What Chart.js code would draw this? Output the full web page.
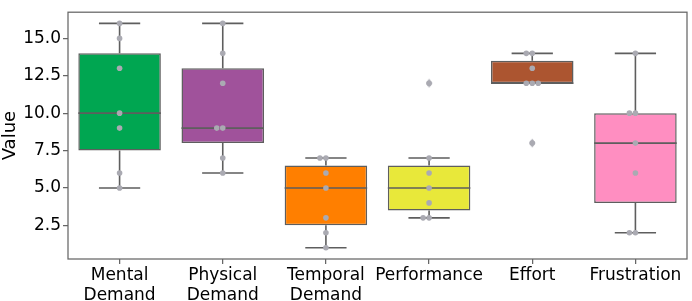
<!DOCTYPE html>
<html>
<head>
<meta charset="utf-8">
<script src="https://cdn.jsdelivr.net/npm/chart.js@4.4.1/dist/chart.umd.min.js"></script>
<style>
  html, body { margin: 0; padding: 0; background: #fff; }
  #wrap { width: 692px; height: 301px; }
</style>
</head>
<body>
<div id="wrap"><canvas id="boxChart"></canvas></div>
<script>
// categories and box statistics
var categories = [["Mental", "Demand"], ["Physical", "Demand"], ["Temporal", "Demand"], "Performance", "Effort", "Frustration"];
var boxColors = ["#00a651", "#a0529b", "#ff7f00", "#e8e83a", "#ac5530", "#ff8ec1"];
var q1 = [7.5, 8, 2.5, 3.5, 12, 4];
var median = [10, 9, 5, 5, 12, 8];
var q3 = [14, 13, 6.5, 6.5, 13.5, 10];
var whiskerLow = [5, 6, 1, 3, 12, 2];
var whiskerHigh = [16, 16, 7, 7, 14, 14];
var outliers = [[], [], [], [12], [8], []];
// individual observations (the grey swarm dots)
var observations = [
    [16, 15, 13, 10, 9, 6, 5],
    [16, 14, 12, 9, 9, 7, 6],
    [7, 7, 6, 5, 3, 2, 1],
    [12, 7, 6, 5, 4, 3, 3],
    [14, 14, 13, 12, 12, 12, 8],
    [14, 10, 10, 8, 6, 2, 2]
];
var yTicks = [2.5, 5.0, 7.5, 10.0, 12.5, 15.0];

var lineColor = "#5e5e5e";
var dotColor = "#aaaab2";
var tickFont = { family: "DejaVu Sans", size: 17 };

// box whiskers, caps and medians as broken lines
var whiskerPts = [];
var medianPts = [];
for (var i = 0; i < categories.length; i++) {
    whiskerPts.push({ x: i, y: whiskerLow[i] }, { x: i, y: q1[i] }, { x: i, y: null });
    whiskerPts.push({ x: i, y: q3[i] }, { x: i, y: whiskerHigh[i] }, { x: i, y: null });
    whiskerPts.push({ x: i - 0.2, y: whiskerLow[i] }, { x: i + 0.2, y: whiskerLow[i] }, { x: i, y: null });
    whiskerPts.push({ x: i - 0.2, y: whiskerHigh[i] }, { x: i + 0.2, y: whiskerHigh[i] }, { x: i, y: null });
    medianPts.push({ x: i - 0.4, y: median[i] }, { x: i + 0.4, y: median[i] }, { x: i, y: null });
}

// swarm: repeated values sit side by side (center, left, right ...)
var swarmStep = 0.058;
var swarmPts = [];
observations.forEach(function (vals, c) {
    var seen = {};
    vals.forEach(function (v) {
        var k = seen[v] || 0;
        seen[v] = k + 1;
        var off = k === 0 ? 0 : (k % 2 === 1 ? -Math.ceil(k / 2) : Math.ceil(k / 2));
        swarmPts.push({ x: c + off * swarmStep, y: v });
    });
});

var outlierPts = [];
outliers.forEach(function (vals, c) {
    vals.forEach(function (v) { outlierPts.push({ x: c, y: v }); });
});

// thin diamond marker for fliers
var diamond = document.createElement("canvas");
diamond.width = 7;
diamond.height = 10;
var dctx = diamond.getContext("2d");
dctx.fillStyle = dotColor;
dctx.beginPath();
dctx.moveTo(3.5, 0.5);
dctx.lineTo(6.5, 5);
dctx.lineTo(3.5, 9.5);
dctx.lineTo(0.5, 5);
dctx.closePath();
dctx.fill();

var framePlugin = {
    id: "frame",
    beforeDatasetsDraw: function (chart) {
        var a = chart.chartArea, ctx = chart.ctx;
        ctx.save();
        ctx.strokeStyle = "#666";
        ctx.lineWidth = 1.25;
        ctx.strokeRect(a.left, a.top, a.right - a.left, a.bottom - a.top);
        ctx.restore();
    }
};

new Chart(document.getElementById("boxChart").getContext("2d"), {
    type: "scatter",
    data: {
        datasets: [
            {
                type: "bar",
                label: "box",
                data: q1.map(function (v, i) { return { x: i, y: [v, q3[i]] }; }),
                backgroundColor: boxColors,
                borderColor: lineColor,
                borderWidth: 1.5,
                borderSkipped: false,
                barPercentage: 0.8,
                categoryPercentage: 1,
                order: 5
            },
            {
                type: "line",
                label: "whiskers",
                data: whiskerPts,
                borderColor: lineColor,
                borderWidth: 1.6,
                pointRadius: 0,
                spanGaps: false,
                fill: false,
                order: 4
            },
            {
                type: "line",
                label: "median",
                data: medianPts,
                borderColor: lineColor,
                borderWidth: 1.6,
                pointRadius: 0,
                spanGaps: false,
                fill: false,
                order: 3
            },
            {
                type: "scatter",
                label: "points",
                data: swarmPts,
                backgroundColor: dotColor,
                borderWidth: 0,
                pointRadius: 2.8,
                order: 2
            },
            {
                type: "scatter",
                label: "outliers",
                data: outlierPts,
                pointStyle: diamond,
                order: 1
            }
        ]
    },
    options: {
        responsive: true,
        maintainAspectRatio: false,
        animation: false,
        layout: { padding: { left: 0, right: 2, top: 2, bottom: 0 } },
        plugins: { legend: { display: false }, tooltip: { enabled: false } },
        scales: {
            x: {
                type: "linear",
                min: -0.5,
                max: 5.5,
                offset: false,
                afterBuildTicks: function (s) { s.ticks = categories.map(function (c, i) { return { value: i }; }); },
                grid: { display: true, offset: false, drawOnChartArea: false, tickLength: 5, color: "#666", lineWidth: 1.25 },
                border: { display: false },
                ticks: {
                    font: tickFont, color: "#000", padding: 1, maxRotation: 0, autoSkip: false,
                    callback: function (v) { return categories[Math.round(v)]; }
                },
                afterFit: function (s) { s.height = 42; }
            },
            y: {
                type: "linear",
                min: 0.25,
                max: 16.75,
                afterBuildTicks: function (s) { s.ticks = yTicks.map(function (v) { return { value: v }; }); },
                ticks: { font: tickFont, color: "#000", padding: 2, callback: function (v) { return v.toFixed(1); } },
                grid: { drawOnChartArea: false, tickLength: 5, color: "#666", lineWidth: 1.25 },
                border: { display: false },
                title: { display: true, text: "Value", font: { family: "DejaVu Sans", size: 18 }, color: "#000", padding: 0 },
                afterFit: function (s) { s.width = 68; }
            }
        }
    },
    plugins: [framePlugin]
});
</script>
</body>
</html>
